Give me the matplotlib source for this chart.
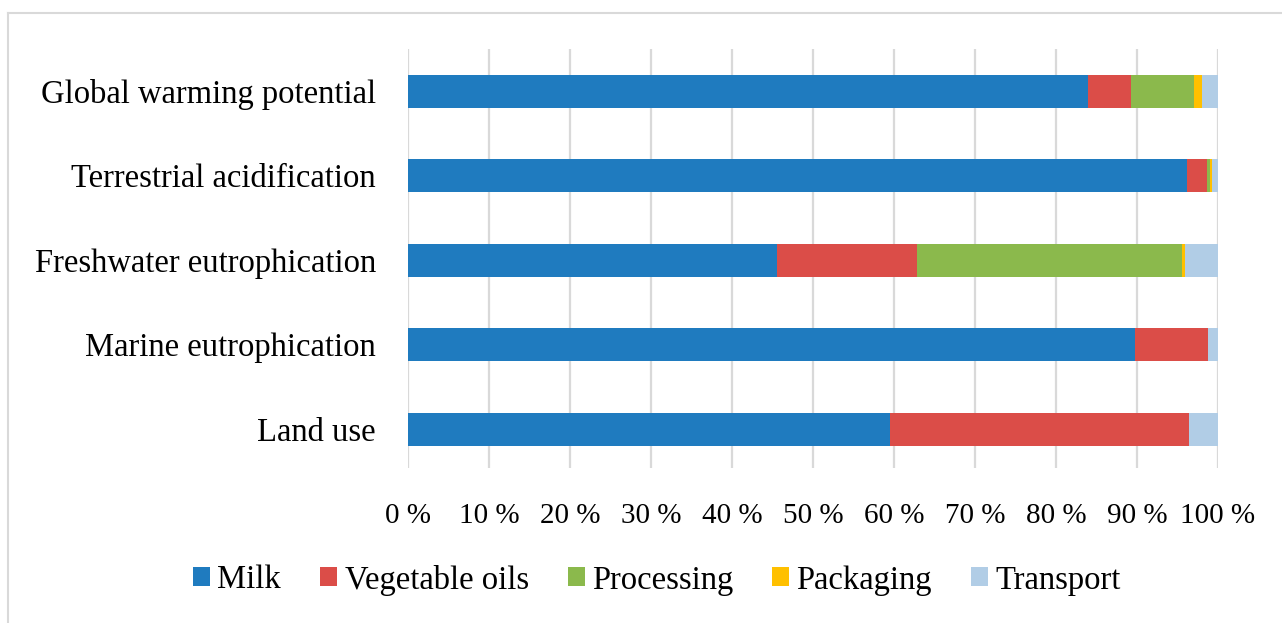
import matplotlib.pyplot as plt
from matplotlib.lines import Line2D

# impact categories, bottom to top
categories = ['Land use', 'Marine eutrophication', 'Freshwater eutrophication',
              'Terrestrial acidification', 'Global warming potential']

# shares per stage (%), same order as categories
milk = [59.5, 89.8, 45.5, 96.2, 83.9]
vegetable_oils = [36.9, 9.0, 17.3, 2.4, 5.4]
processing = [0.0, 0.0, 32.8, 0.4, 7.7]
packaging = [0.0, 0.0, 0.3, 0.3, 1.0]
transport = [3.6, 1.2, 4.1, 0.7, 2.0]

stages = ['Milk', 'Vegetable oils', 'Processing', 'Packaging', 'Transport']
stage_values = [milk, vegetable_oils, processing, packaging, transport]
colors = ['#1f7bbf', '#db4d48', '#8bb94c', '#ffc000', '#b1cde6']

ticks = list(range(0, 101, 10))
tick_labels = [f'{t} %' for t in ticks]

plt.rcParams['font.family'] = ['Liberation Serif', 'DejaVu Serif']

W, H = 1282, 623
fig = plt.figure(figsize=(W / 100, H / 100), dpi=100)
ax = fig.add_axes([408 / W, 1 - 468 / H, 810 / W, 419 / H])

left = [0.0] * len(categories)
for name, vals, col in zip(stages, stage_values, colors):
    ax.barh(categories, vals, left=left, height=0.39, color=col, label=name, zorder=3)
    left = [a + b for a, b in zip(left, vals)]

ax.set_xlim(0, 100)
ax.set_ylim(-0.46, 4.5)
ax.set_xticks(ticks)
ax.set_xticklabels(tick_labels)
ax.grid(axis='x', color='#d9d9d9', linewidth=1.6, zorder=0)
for s in ax.spines.values():
    s.set_visible(False)
ax.tick_params(axis='both', length=0, colors='black')
ax.tick_params(axis='x', pad=25, labelsize=21)
ax.tick_params(axis='y', pad=23, labelsize=23.5)

# light frame round the chart (top and left edges visible)
fig.add_artist(Line2D([8 / W, 8 / W], [0, 1 - 13 / H], transform=fig.transFigure,
                      color='#d9d9d9', linewidth=1.5))
fig.add_artist(Line2D([8 / W, 1], [1 - 13 / H, 1 - 13 / H], transform=fig.transFigure,
                      color='#d9d9d9', linewidth=1.5))

fig.legend(loc='center', bbox_to_anchor=(657 / W, 1 - 580 / H), ncol=5,
           frameon=False, fontsize=23.5, handlelength=0.52, handleheight=0.52,
           handletextpad=0.22, columnspacing=1.2, borderpad=0, borderaxespad=0)

fig.savefig('out.png', dpi=100)
